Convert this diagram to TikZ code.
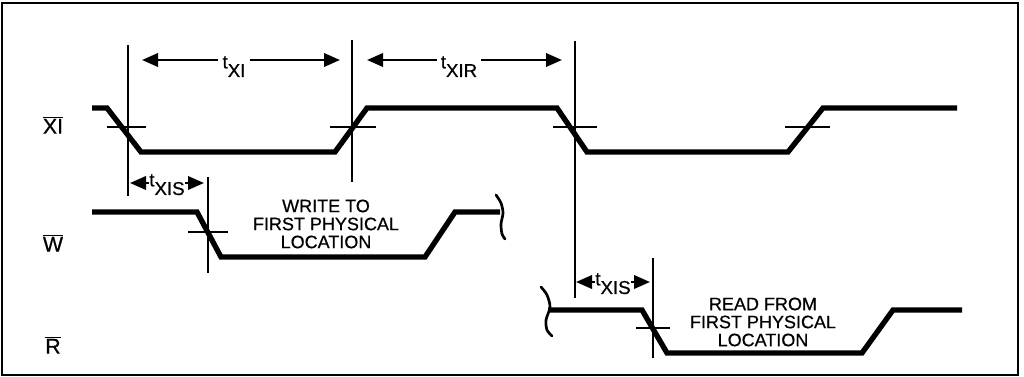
\documentclass[tikz,border=0pt]{standalone}
\usepackage{fontspec}
\setmainfont{Liberation Sans}[FakeBold=0.6]
\usetikzlibrary{arrows.meta}
\newcommand\tsym[1]{\raisebox{6.5pt}{t}#1}
\begin{document}
\begin{tikzpicture}[x=0.75pt,y=-0.75pt,
  sig/.style={line width=4pt,line join=miter},
  vline/.style={line width=1.8pt},
  tick/.style={line width=1.7pt},
  dimarr/.style={line width=1.9pt,-{Triangle[length=12pt,width=10pt]}},
  lbl/.style={font=\fontsize{14}{16}\selectfont,inner sep=0pt},
  sname/.style={font=\fontsize{16}{18}\selectfont,inner sep=0pt},
  note/.style={font=\fontsize{13.5}{13.5}\selectfont,align=center,inner sep=0pt},
  squig/.style={line width=2pt,line cap=round}]
\useasboundingbox (0,0) rectangle (1024,377);
\draw[line width=1.3pt] (2,3) rectangle (1018,375);

% signal names
\node[sname] (nxi) at (53,125) {$\overline{\mbox{XI}}$};
\node[sname] (nw) at (53,243) {$\overline{\mbox{W}}$};
\node[sname] (nr) at (53,345) {$\overline{\mbox{R}}$};

% XI waveform
\draw[sig] (92,108) -- (107,108) -- (141,152) -- (335,152) -- (367,108) -- (557,108) -- (587,152) -- (788,152) -- (823,108) -- (957,108);
\draw[tick] (107,127) -- (146,127);
\draw[tick] (330,127) -- (376,127);
\draw[tick] (553,127) -- (597,127);
\draw[tick] (785,127) -- (830,127);

% W waveform
\draw[sig] (92,212) -- (197,212) -- (221,257) -- (425,257) -- (455,212) -- (500,212);
\draw[squig] plot[smooth] coordinates {(496,195) (501,203) (503,213) (501,224) (502,234) (505,239)};
\draw[tick] (188,232) -- (228,232);

% R waveform
\draw[sig] (548,310) -- (642,310) -- (667,353) -- (862,353) -- (893,310) -- (962,310);
\draw[squig] plot[smooth] coordinates {(541,287) (547,295) (550,307) (546,320) (547,330) (552,336)};
\draw[tick] (636,328) -- (670,328);

% vertical reference lines
\coordinate (v1t) at (128,45);  \coordinate (v1b) at (128,196);
\coordinate (v2t) at (352,40);  \coordinate (v2b) at (352,182);
\coordinate (v3t) at (575,41);  \coordinate (v3b) at (575,298);
\coordinate (v4t) at (208,177); \coordinate (v4b) at (208,273);
\coordinate (v5t) at (653,258); \coordinate (v5b) at (653,358);
\draw[vline] (v1t) -- (v1b);
\draw[vline] (v2t) -- (v2b);
\draw[vline] (v3t) -- (v3b);
\draw[vline] (v4t) -- (v4b);
\draw[vline] (v5t) -- (v5b);

% tXI
\node[lbl,anchor=base] (txi) at (234,77) {\tsym{XI}};
\coordinate (txil) at (142,60); \coordinate (txir) at (340,60);
\draw[dimarr] (txi.west |- txil) ++(-4,0) -- (txil);
\draw[dimarr] (txi.east |- txir) ++(4,0) -- (txir);

% tXIR
\node[lbl,anchor=base] (txir) at (459,77) {\tsym{XIR}};
\coordinate (txirl) at (367,60); \coordinate (txirr) at (562,60);
\draw[dimarr] (txir.west |- txirl) ++(-4,0) -- (txirl);
\draw[dimarr] (txir.east |- txirr) ++(4,0) -- (txirr);

% tXIS (W)
\node[lbl,anchor=base] (txis1) at (167,195) {\tsym{XIS}};
\coordinate (s1l) at (130,183); \coordinate (s1r) at (204,183);
\draw[dimarr] (txis1.west |- s1l) -- (s1l);
\draw[dimarr] (txis1.east |- s1r) -- (s1r);

% tXIS (R)
\node[lbl,anchor=base] (txis2) at (613,294) {\tsym{XIS}};
\coordinate (s2l) at (576,282); \coordinate (s2r) at (650,282);
\draw[dimarr] (txis2.west |- s2l) -- (s2l);
\draw[dimarr] (txis2.east |- s2r) -- (s2r);

% notes
\node[note] (wnote) at (326,224) {WRITE TO\\FIRST PHYSICAL\\LOCATION};
\node[note] (rnote) at (763,322) {READ FROM\\FIRST PHYSICAL\\LOCATION};
\end{tikzpicture}
\end{document}
